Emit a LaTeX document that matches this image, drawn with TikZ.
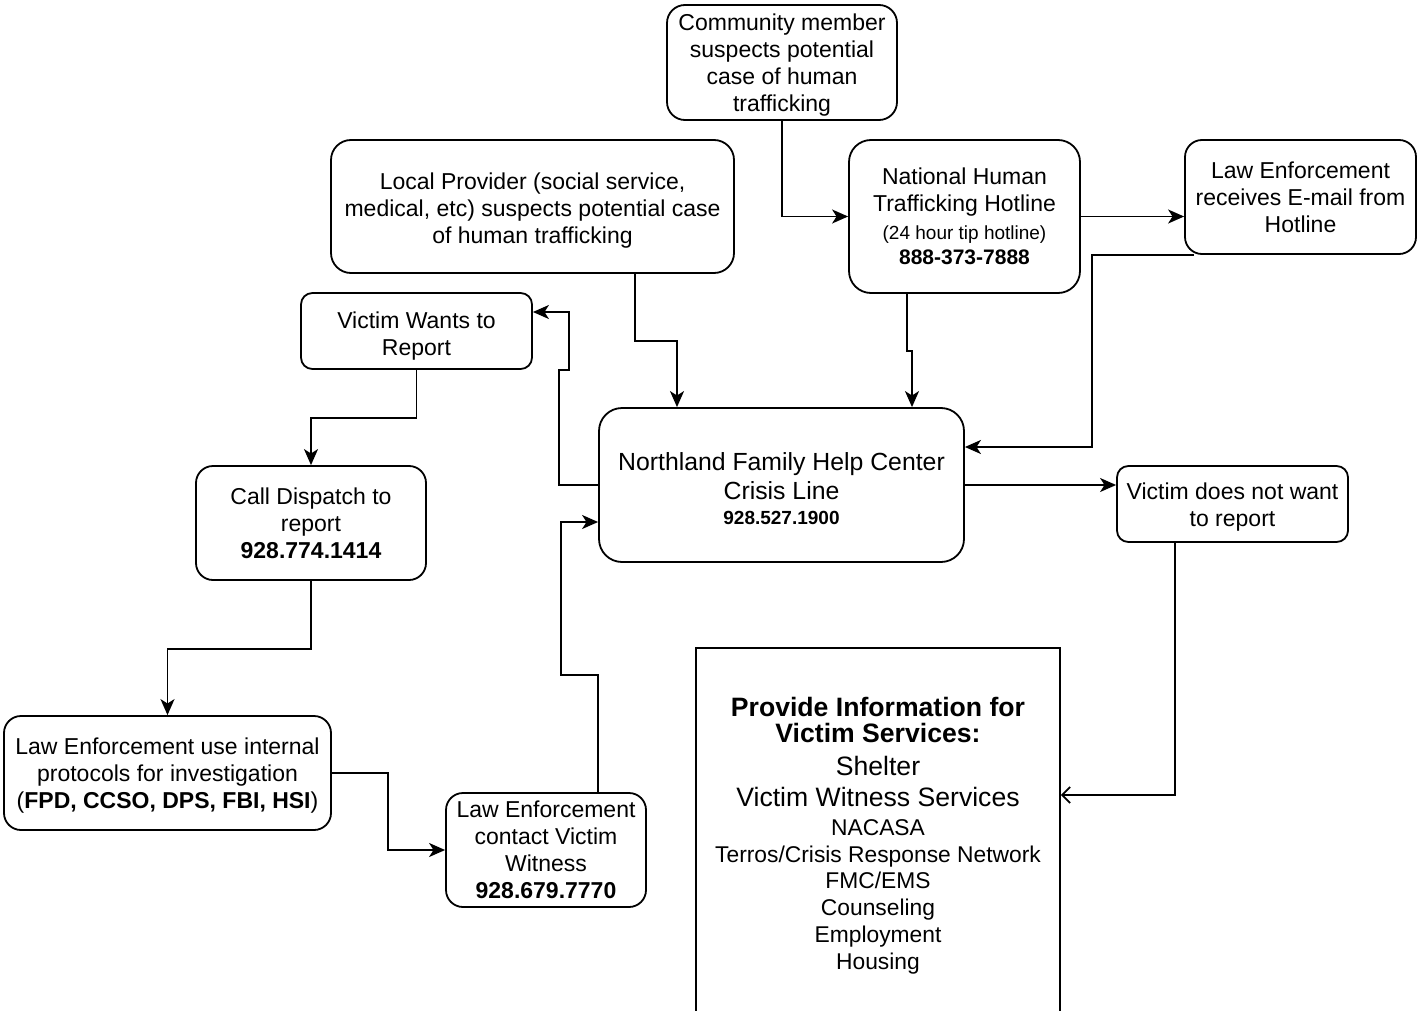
\documentclass[tikz,border=0pt]{standalone}
\usepackage{fontspec}
\setmainfont{Liberation Sans}
\usetikzlibrary{arrows.meta,calc}
\newcommand{\toppad}[1]{\rule{0pt}{\dimexpr\fontcharht\font`l+#1\relax}}
\begin{document}
\begin{tikzpicture}[x=0.5pt,y=-0.5pt,
  box/.style={draw, line width=0.9pt, rounded corners=#1, align=center, inner sep=0pt,
    font=\fontsize{11.5}{13.5}\selectfont},
  box/.default=8.5pt,
  arr/.style={line width=0.9pt, -{Stealth[length=8pt,width=7pt,inset=2.2pt]}},
  openarr/.style={line width=0.9pt, -{Straight Barb[length=4pt,width=8pt]}}]
\clip (0,0) rectangle (1419,1011);

\node[box=9pt, minimum width=115pt, minimum height=57.5pt, text depth=-0.8pt] (comm) at (782,62.5)
  {\toppad{1pt}Community member\\suspects potential\\case of human\\trafficking};
\node[box=10pt, minimum width=201.5pt, minimum height=66.5pt, text depth=-0.8pt] (local) at (532.5,206.5)
  {\toppad{2pt}Local Provider (social service,\\medical, etc) suspects potential case\\of human trafficking};
\node[box=11pt, minimum width=115.5pt, minimum height=76.5pt] (nat) at (964.5,216.5)
  {National Human\\Trafficking Hotline\\[0.5pt]{\fontsize{9.5}{11}\selectfont (24 hour tip hotline)}\\[-1pt]{\fontsize{10.5}{12}\selectfont\bfseries 888-373-7888}};
\node[box=8.5pt, minimum width=115.5pt, minimum height=57pt, text depth=-1pt] (lerec) at (1300.5,197)
  {\toppad{1pt}Law Enforcement\\receives E-mail from\\Hotline};
\node[box=5.7pt, minimum width=115.5pt, minimum height=38pt, text depth=-2.8pt] (vwant) at (416.5,331)
  {\toppad{3pt}Victim Wants to\\Report};
\node[box=11.5pt, minimum width=182.5pt, minimum height=77pt,
  font=\fontsize{12.4}{14.5}\selectfont] (nfhc) at (781.5,485)
  {\toppad{4pt}Northland Family Help Center\\Crisis Line\\[-2pt]{\fontsize{9.5}{11}\selectfont\bfseries 928.527.1900}};
\node[box=5.7pt, minimum width=115.5pt, minimum height=38pt, text depth=-1.3pt] (vnot) at (1232.5,504)
  {\toppad{1.5pt}Victim does not want\\to report};
\node[box=8.5pt, minimum width=115pt, minimum height=57pt] (disp) at (311,523)
  {Call Dispatch to\\report\\\textbf{928.774.1414}};
\node[box=8.5pt, minimum width=163.5pt, minimum height=57pt, text depth=-1.1pt] (leint) at (167.5,773)
  {\toppad{0.5pt}Law Enforcement use internal\\protocols for investigation\\(\textbf{FPD, CCSO, DPS, FBI, HSI})};
\node[box=8.5pt, minimum width=100pt, minimum height=57pt] (lecon) at (546,850)
  {\toppad{0.5pt}Law Enforcement\\contact Victim\\Witness\\\textbf{928.679.7770}};
\node[box=0pt, minimum width=182pt, minimum height=185pt, text depth=-0.8pt,
  font=\fontsize{11.4}{13.4}\selectfont] (prov) at (878,833)
  {{\fontsize{13.3}{15}\selectfont\bfseries Provide Information for}\\
   {\fontsize{13.3}{15}\selectfont\bfseries Victim Services:}\\[3pt]
   {\fontsize{13.3}{15}\selectfont Shelter}\\[2pt]
   {\fontsize{13.3}{15}\selectfont Victim Witness Services}\\[1pt]
   NACASA\\Terros/Crisis Response Network\\FMC/EMS\\Counseling\\Employment\\Housing};

% connectors
\draw[arr] (comm.south) |- (nat.west);
\draw[arr] (nat.east) -- (lerec.west |- nat.east);
\draw[arr] ($(lerec.south west)+(10,0)$) -| ($(nfhc.east)+(127,-38)$) -- ($(nfhc.east)+(0,-38)$);
\draw[arr] ($(nat.south)+(-57.5,0)$) -- ++(0,57) -| ($(nfhc.north)+(130.5,0)$);
\draw[arr] ($(local.south)+(102.5,0)$) -- ++(0,67) -| ($(nfhc.north)+(-104.5,0)$);
\draw[arr] (nfhc.west) -- ++(-39,0) -- ++(0,-115) -- ++(10,0) |- ($(vwant.east)+(0,-19)$);
\draw[arr] (vwant.south) -- ++(0,48) -| (disp.north);
\draw[arr] (disp.south) -- ++(0,68) -| (leint.north);
\draw[arr] (leint.east) -- ++(56,0) |- (lecon.west);
\draw[arr] ($(lecon.north)+(52,0)$) -- ++(0,-117) -- ++(-37,0) |- ($(nfhc.west)+(0,37)$);
\draw[arr] (nfhc.east) -- (vnot.west |- nfhc.east);
\draw[openarr] ($(vnot.south)+(-57.5,0)$) |- ($(prov.east)+(0,-38)$);
\end{tikzpicture}
\end{document}
